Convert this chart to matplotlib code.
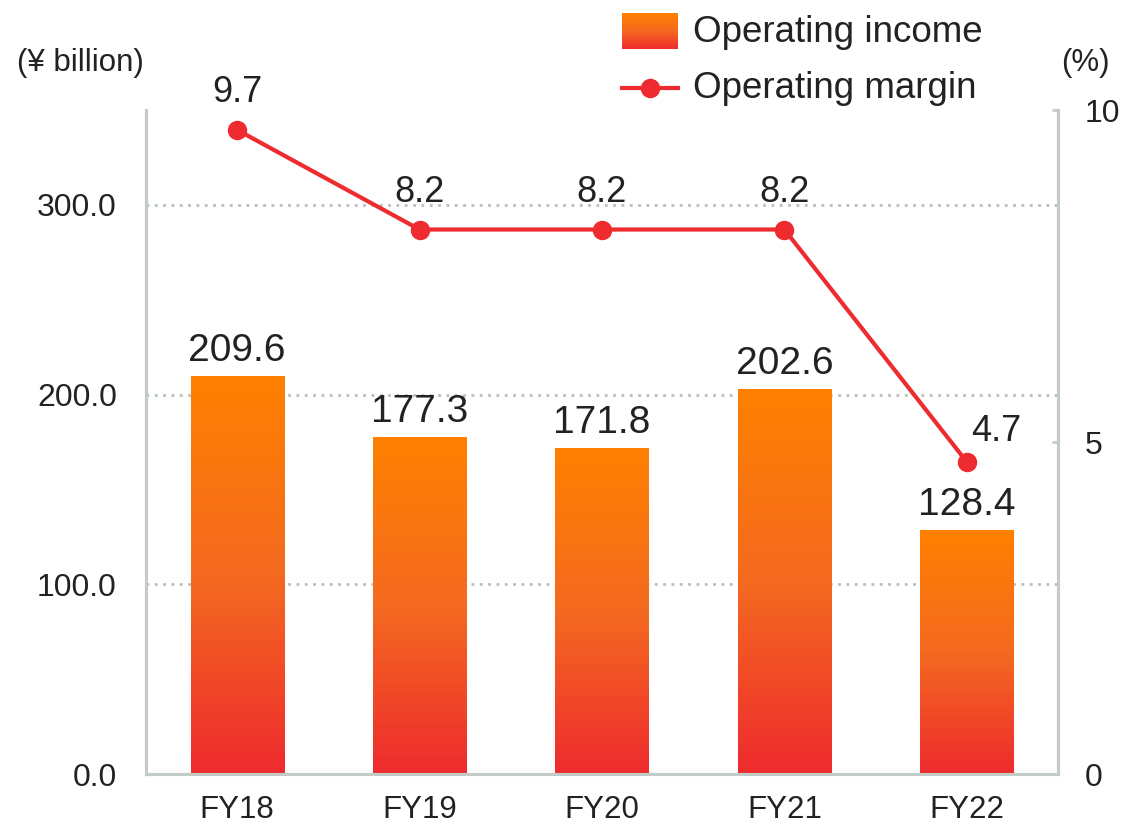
import matplotlib
matplotlib.use("Agg")
import matplotlib.pyplot as plt
import numpy as np
from matplotlib.lines import Line2D
from matplotlib.colors import LinearSegmentedColormap

plt.rcParams['font.family'] = ['Liberation Sans', 'DejaVu Sans']

categories = ["FY18", "FY19", "FY20", "FY21", "FY22"]
income = [209.6, 177.3, 171.8, 202.6, 128.4]
margin = [9.7, 8.2, 8.2, 8.2, 4.7]
left_ticks = [0, 100, 200, 300]
left_ticklabels = ["0.0", "100.0", "200.0", "300.0"]
right_ticks = [0, 5, 10]
right_ticklabels = ["0", "5", "10"]

TXT = "#222222"
SPINE = "#C3CBC9"
GRID = "#B8BEBE"
RED = "#EE2B2E"
ORANGE = "#FF8000"
cmap = LinearSegmentedColormap.from_list(
    "og", [(0.0, RED), (0.5, "#F46A20"), (1.0, ORANGE)])

fig = plt.figure(figsize=(11.25, 8.26), dpi=100)
ax = fig.add_axes([146/1125, 52/826, 912/1125, 664/826])
ax2 = ax.twinx()

x = np.arange(len(categories))
bw = 0.51
grad = np.linspace(0, 1, 256).reshape(-1, 1)
bars = ax.bar(x, income, width=bw, color="none", zorder=2)
for b, v in zip(bars, income):
    x0 = b.get_x()
    ax.imshow(grad, cmap=cmap, aspect="auto", origin="lower",
              extent=[x0, x0 + bw, 0, v], zorder=2, interpolation="bilinear")
for xi, v in zip(x, income):
    ax.annotate(f"{v:.1f}", (xi, v), xytext=(0, 11), textcoords="offset points",
                ha="center", va="baseline", fontsize=28, color=TXT)

ax.set_xlim(-0.5, len(categories) - 0.5)
ax.set_ylim(0, 350)
ax.set_yticks(left_ticks)
ax.set_yticklabels(left_ticklabels)
ax.set_xticks(x)
ax.set_xticklabels(categories)
ax.tick_params(axis="y", length=0, labelsize=23, pad=21, colors=TXT)
ax.tick_params(axis="x", length=0, labelsize=22.5, pad=15, colors=TXT)
for yv in left_ticks[1:]:
    ax.axhline(yv, color=GRID, lw=2, ls=(0, (1, 2)), zorder=1)

ax2.plot(x, margin, color=RED, lw=3, marker="o", markersize=13, zorder=5)
ax2.set_ylim(0, 10)
ax2.set_yticks(right_ticks)
ax2.set_yticklabels(right_ticklabels)
ax2.tick_params(axis="y", direction="in", length=4, width=2, color=SPINE,
                labelsize=23, pad=19, labelcolor=TXT)
offsets = [(0, 20), (0, 20), (0, 20), (0, 20), (21.5, 15)]
for xi, v, off in zip(x, margin, offsets):
    ax2.annotate(f"{v:.1f}", (xi, v), xytext=off, textcoords="offset points",
                 ha="center", va="baseline", fontsize=26, color=TXT)

for a in (ax, ax2):
    a.spines["top"].set_visible(False)
    for s in ("left", "right", "bottom"):
        a.spines[s].set_color(SPINE)
        a.spines[s].set_linewidth(2.2)

ax.set_zorder(1)
ax2.set_zorder(2)
ax.patch.set_visible(False)
ax2.patch.set_visible(False)

fig.text(80/1125, 1 - 63/826, "(¥ billion)", ha="center", va="center",
         fontsize=22.5, color=TXT)
fig.text(1085/1125, 1 - 63/826, "(%)", ha="center", va="center",
         fontsize=22.5, color=TXT)

# legend
lax = fig.add_axes([622/1125, 1 - 49/826, 56/1125, 36/826])
lax.imshow(grad, cmap=cmap, aspect="auto", origin="lower", extent=[0, 1, 0, 1])
lax.set_axis_off()
fig.text(693/1125, 1 - 33/826, "Operating income", ha="left", va="center",
         fontsize=26.5, color=TXT)
fig.add_artist(Line2D([622/1125, 678/1125], [1 - 88/826, 1 - 88/826],
                      transform=fig.transFigure, color=RED, lw=3))
fig.add_artist(Line2D([650/1125], [1 - 88/826], transform=fig.transFigure,
                      color=RED, marker="o", markersize=13))
fig.text(693/1125, 1 - 89/826, "Operating margin", ha="left", va="center",
         fontsize=26.5, color=TXT)

fig.savefig("out.png", dpi=100)
